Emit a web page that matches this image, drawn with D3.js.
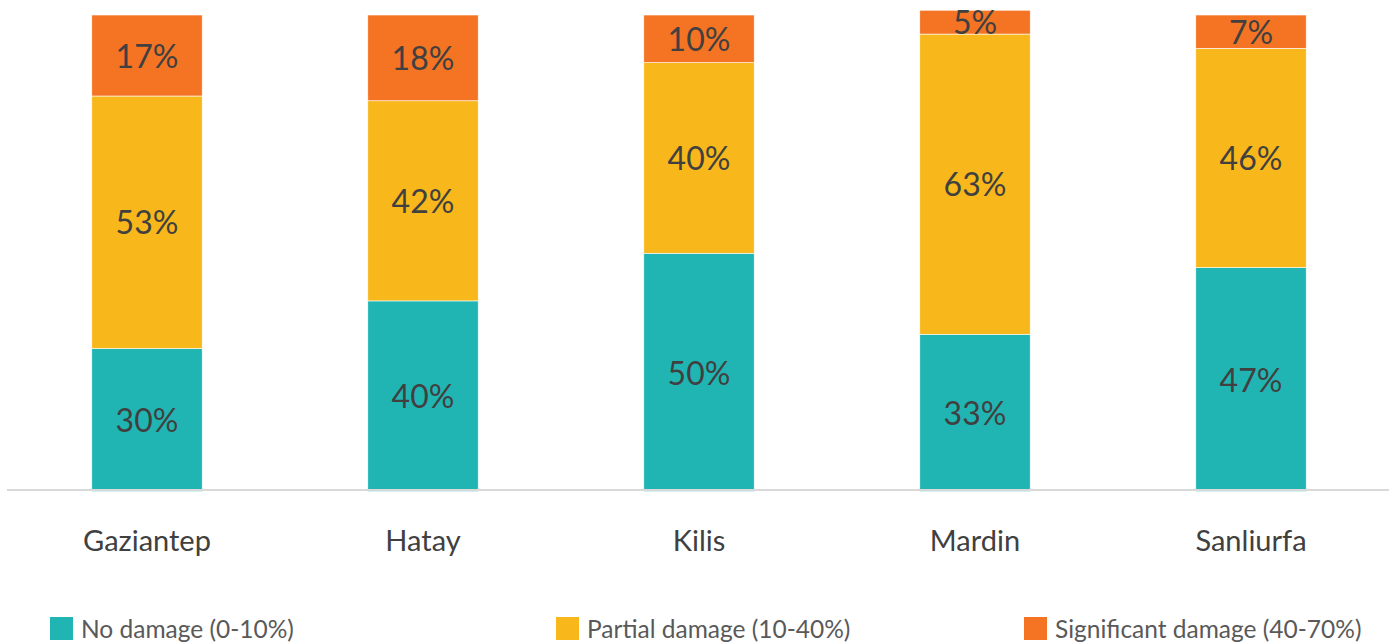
<!DOCTYPE html>
<html>
<head>
<meta charset="utf-8">
<script src="https://cdn.jsdelivr.net/npm/d3@7"></script>
<style>
  body { margin: 0; background: #fff; }
  svg { display: block; font-family: "Lato", "Open Sans", sans-serif; }
</style>
</head>
<body>
<svg width="1394" height="642"></svg>
<script>
var provinces = ["Gaziantep", "Hatay", "Kilis", "Mardin", "Sanliurfa"];
var noDamage = [30, 40, 50, 33, 47];
var partialDamage = [53, 42, 40, 63, 46];
var significantDamage = [17, 18, 10, 5, 7];
var seriesNames = ["No damage (0-10%)", "Partial damage (10-40%)", "Significant damage (40-70%)"];
var seriesColors = ["#20b5b3", "#f8b71a", "#f47424"];

var svg = d3.select("svg");

var x = d3.scaleBand()
    .domain(provinces)
    .range([9, 1389])
    .paddingInner(0.6)
    .paddingOuter(0.3);

var y = d3.scaleLinear()
    .domain([0, 100])
    .range([491.5, 15]);

var rows = provinces.map(function(p, i) {
  return {name: p, s0: noDamage[i], s1: partialDamage[i], s2: significantDamage[i]};
});

var stack = d3.stack().keys(["s0", "s1", "s2"]);
var layers = stack(rows);

var layer = svg.append("g")
  .selectAll("g")
  .data(layers)
  .enter().append("g")
    .attr("fill", function(d, i) { return seriesColors[i]; });

layer.selectAll("rect")
  .data(function(d) { return d; })
  .enter().append("rect")
    .attr("x", function(d) { return x(d.data.name); })
    .attr("width", x.bandwidth())
    .attr("y", function(d) { return y(d[1]); })
    .attr("height", function(d) { return y(d[0]) - y(d[1]); })
    .attr("stroke", "#fff")
    .attr("stroke-width", 0.6);

// value labels
layer.selectAll("text")
  .data(function(d) { return d; })
  .enter().append("text")
    .attr("x", function(d) { return x(d.data.name) + x.bandwidth() / 2; })
    .attr("y", function(d) { return (y(d[0]) + y(d[1])) / 2 + 1; })
    .attr("dy", "0.35em")
    .attr("text-anchor", "middle")
    .attr("fill", "#404040")
    .attr("font-size", 32)
    .text(function(d) { return (d[1] - d[0]) + "%"; });

// baseline
svg.append("line")
    .attr("x1", 7).attr("x2", 1389)
    .attr("y1", y(0) - 1.5).attr("y2", y(0) - 1.5)
    .attr("stroke", "#d9d9d9")
    .attr("stroke-width", 2);

// category axis
var xAxis = svg.append("g")
    .attr("transform", "translate(0," + y(0) + ")")
    .call(d3.axisBottom(x).tickSize(0).tickPadding(0));
xAxis.select(".domain").remove();
xAxis.selectAll("text")
    .attr("y", 59)
    .attr("dy", 0)
    .attr("font-family", "Lato, sans-serif")
    .attr("font-size", 29)
    .attr("fill", "#404040");

// legend
var legendX = [50, 556, 1024];
var legend = svg.append("g")
  .selectAll("g")
  .data(seriesNames)
  .enter().append("g")
    .attr("transform", function(d, i) { return "translate(" + legendX[i] + ",617)"; });

legend.append("rect")
    .attr("width", 23).attr("height", 23)
    .attr("fill", function(d, i) { return seriesColors[i]; });

legend.append("text")
    .attr("x", 31)
    .attr("y", 21)
    .attr("font-size", 24.5)
    .attr("fill", "#595959")
    .text(function(d) { return d; });
</script>
</body>
</html>
